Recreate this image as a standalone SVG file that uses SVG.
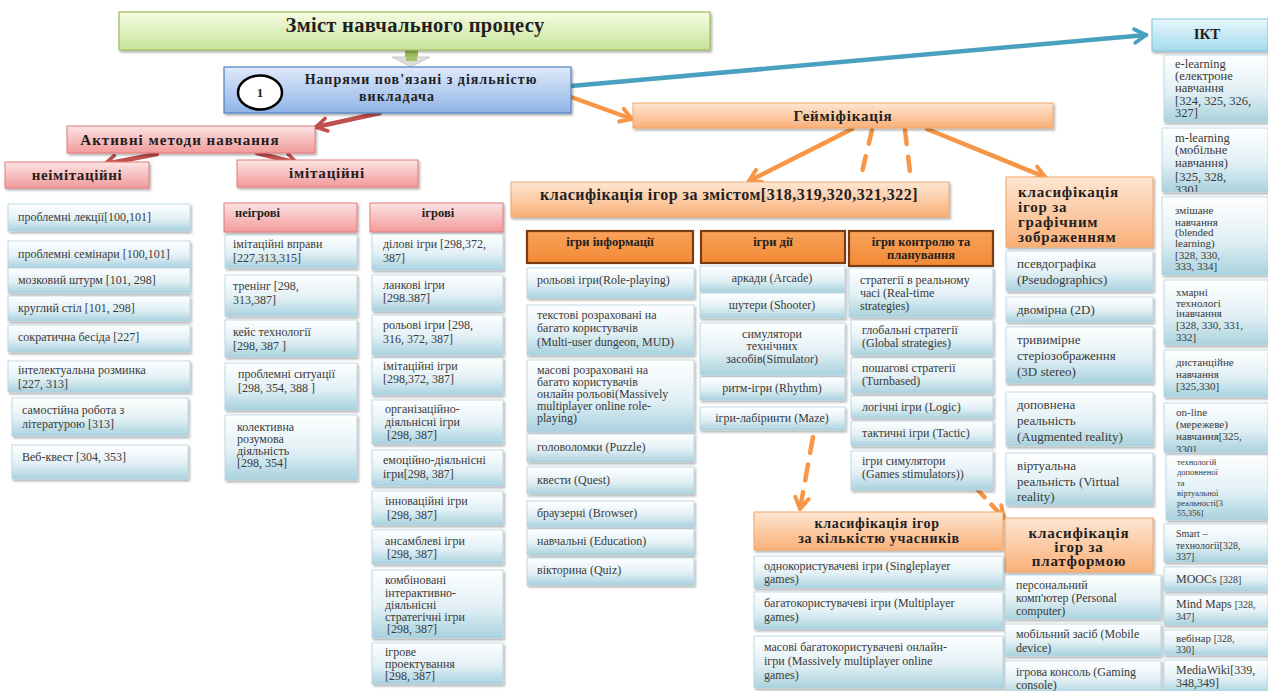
<svg xmlns="http://www.w3.org/2000/svg" width="1268" height="691" viewBox="0 0 1268 691">
<defs>
<linearGradient id="gItem" x1="0" y1="0" x2="0" y2="1"><stop offset="0" stop-color="#ffffff"/><stop offset="0.55" stop-color="#e2f0f5"/><stop offset="1" stop-color="#a9d2de"/></linearGradient>
<linearGradient id="gRed" x1="0" y1="0" x2="0" y2="1"><stop offset="0" stop-color="#fde4e4"/><stop offset="1" stop-color="#f29a9a"/></linearGradient>
<linearGradient id="gOr" x1="0" y1="0" x2="0" y2="1"><stop offset="0" stop-color="#fee6d2"/><stop offset="1" stop-color="#f9b079"/></linearGradient>
<linearGradient id="gOrD" x1="0" y1="0" x2="0" y2="1"><stop offset="0" stop-color="#f9a25a"/><stop offset="1" stop-color="#f28a36"/></linearGradient>
<linearGradient id="gGreen" x1="0" y1="0" x2="0" y2="1"><stop offset="0" stop-color="#f6fbe2"/><stop offset="1" stop-color="#c7e49c"/></linearGradient>
<linearGradient id="gNavy" x1="0" y1="0" x2="0" y2="1"><stop offset="0" stop-color="#e0eafb"/><stop offset="1" stop-color="#8fb4e6"/></linearGradient>
<linearGradient id="gIkt" x1="0" y1="0" x2="0" y2="1"><stop offset="0" stop-color="#e8f7fc"/><stop offset="1" stop-color="#a3daec"/></linearGradient>
<filter id="sh" x="-10%" y="-10%" width="125%" height="150%"><feDropShadow dx="1.5" dy="2" stdDeviation="1.2" flood-color="#000" flood-opacity="0.3"/></filter>
<marker id="mBlue" viewBox="0 0 16 16" refX="13" refY="8" markerWidth="18" markerHeight="18" markerUnits="userSpaceOnUse" orient="auto"><path d="M3,2 L13,8 L3,14" fill="none" stroke="#4aa0bf" stroke-width="3.5" stroke-linecap="round" stroke-linejoin="round"/></marker>
<marker id="mRed" viewBox="0 0 16 16" refX="13" refY="8" markerWidth="17" markerHeight="17" markerUnits="userSpaceOnUse" orient="auto"><path d="M3,2 L13,8 L3,14" fill="none" stroke="#c0504d" stroke-width="3.5" stroke-linecap="round" stroke-linejoin="round"/></marker>
<marker id="mOr" viewBox="0 0 16 16" refX="13" refY="8" markerWidth="18" markerHeight="18" markerUnits="userSpaceOnUse" orient="auto"><path d="M3,2 L13,8 L3,14" fill="none" stroke="#f79646" stroke-width="3.5" stroke-linecap="round" stroke-linejoin="round"/></marker>
<clipPath id="cM"><rect x="1162" y="128" width="106" height="64"/></clipPath>
<clipPath id="cO"><rect x="1162" y="403" width="106" height="49"/></clipPath>
<clipPath id="cT"><rect x="1166" y="455" width="102" height="65"/></clipPath>
</defs>
<style>
svg{font-size:12px}
.item{fill:url(#gItem);stroke:#b3d3de;stroke-width:0.8;filter:url(#sh)}
.red{fill:url(#gRed);stroke:#e07a7a;stroke-width:1;filter:url(#sh)}
.or{fill:url(#gOr);stroke:#f2a565;stroke-width:1;filter:url(#sh)}
.ord{fill:url(#gOrD);stroke:#7a3b10;stroke-width:2.2}
.t{font-family:"Liberation Serif","DejaVu Serif",serif;fill:#3a3a3a}
.b{font-weight:bold;fill:#1f1f1f}
.c{text-anchor:middle}
.con{fill:none;stroke-width:4.5;stroke-linecap:round}
</style>

<g id="connectors">
<path class="con" d="M571,86 L1146,35" stroke="#4aa0bf" marker-end="url(#mBlue)"/>
<path class="con" d="M380,113 L316,127" stroke="#c0504d" stroke-width="4" marker-end="url(#mRed)"/>
<path class="con" d="M157,154 L105,164" stroke="#c0504d" stroke-width="4" marker-end="url(#mRed)"/>
<path class="con" d="M257,153 L297,163" stroke="#c0504d" stroke-width="4" marker-end="url(#mRed)"/>
<path class="con" d="M571,97 L632,119" stroke="#f79646" marker-end="url(#mOr)"/>
<path class="con" d="M852,129 L749,181" stroke="#f79646" marker-end="url(#mOr)"/>
<path class="con" d="M872,130 L862,172" stroke="#f79646" stroke-dasharray="14 13" stroke-linecap="butt"/>
<path class="con" d="M905,130 L910,172" stroke="#f79646" stroke-dasharray="14 13" stroke-linecap="butt"/>
<path class="con" d="M927,129 L1045,177" stroke="#f79646" marker-end="url(#mOr)"/>
<path class="con" d="M813,437 L800,509" stroke="#f79646" stroke-dasharray="16 12" stroke-linecap="butt" marker-end="url(#mOr)"/>
<path class="con" d="M975,487 L1004,518" stroke="#f79646" stroke-dasharray="14 10" stroke-linecap="butt" marker-end="url(#mOr)"/>
<g id="down-arrow"><rect x="405" y="50" width="13" height="8" fill="#9bbb59"/><polygon points="392,57 430,57 411,67" fill="#dcdcdc" stroke="#c0c0c0" stroke-width="0.8"/><rect x="406" y="57" width="11" height="4" fill="#a6c46a"/></g>
</g>

<g id="n-zmist"><rect x="119" y="12" width="591" height="38" fill="url(#gGreen)" stroke="#9bbb59" stroke-width="1.2" filter="url(#sh)"/><text class="t b c" x="415" y="32" font-size="20.5" letter-spacing="0.3">Зміст навчального процесу</text></g>

<g id="n-napryamy"><rect x="224" y="67" width="347" height="46" fill="url(#gNavy)" stroke="#4f81bd" stroke-width="1.2" filter="url(#sh)"/><ellipse cx="260" cy="92.5" rx="22" ry="17" fill="#fff" stroke="#000" stroke-width="2.5"/><text class="t b c" x="260" y="97" font-size="13" fill="#000">1</text><text class="t b c" x="421" y="84" font-size="14" letter-spacing="1">Напрями пов'язані з діяльністю</text><text class="t b c" x="397" y="101" font-size="14" letter-spacing="1">викладача</text></g>

<g id="n-ikt"><rect x="1152" y="19" width="116" height="32" fill="url(#gIkt)" stroke="#7fc3da" stroke-width="1" filter="url(#sh)"/><text class="t b c" x="1207" y="39" font-size="15">ІКТ</text></g>

<g id="n-aktyvni"><rect class="red" x="67" y="126" width="248" height="27"/><text class="t b c" x="180" y="145" font-size="15" letter-spacing="1">Активні методи навчання</text></g>
<g id="n-neimit"><rect class="red" x="5" y="162" width="144" height="26"/><text class="t b c" x="77" y="180" font-size="15" letter-spacing="0.6">неімітаційні</text></g>
<g id="n-imit"><rect class="red" x="237" y="160" width="181" height="27"/><text class="t b c" x="327" y="178" font-size="15" letter-spacing="0.8">імітаційні</text></g>
<g id="n-neihrovi"><rect class="red" x="224" y="203" width="133" height="29"/><text class="t b" x="235" y="217" font-size="12.5">неігрові</text></g>
<g id="n-ihrovi"><rect class="red" x="370" y="203" width="133" height="29"/><text class="t b c" x="438" y="217" font-size="12.5">ігрові</text></g>

<g id="n-geim"><rect class="or" x="633" y="103" width="420" height="25"/><text class="t b c" x="843" y="121" font-size="15" letter-spacing="0.8">Гейміфікація</text></g>
<g id="n-zmistom"><rect class="or" x="511" y="182" width="438" height="35"/><text class="t b c" x="729" y="200" font-size="16" letter-spacing="0.5">класифікація ігор за змістом[318,319,320,321,322]</text></g>
<g id="n-hrafichnym"><rect class="or" x="1006" y="177" width="147" height="70"/><text class="t b" font-size="15" letter-spacing="0.8"><tspan x="1018" y="197">класифікація</tspan><tspan x="1018" y="212">ігор за</tspan><tspan x="1018" y="227">графічним</tspan><tspan x="1018" y="242">зображенням</tspan></text></g>
<g id="n-kilkistyu"><rect class="or" x="754" y="512" width="249" height="38"/><text class="t b c" font-size="14" letter-spacing="0.7"><tspan x="877" y="528">класифікація ігор</tspan><tspan x="879" y="543">за кількістю учасників</tspan></text></g>
<g id="n-platformoyu"><rect class="or" x="1005" y="518" width="148" height="54"/><text class="t b c" font-size="15" letter-spacing="0.8"><tspan x="1079" y="538">класифікація</tspan><tspan x="1079" y="552">ігор за</tspan><tspan x="1079" y="566">платформою</tspan></text></g>

<g id="n-h-info"><rect class="ord" x="527" y="231" width="166" height="32"/><text class="t b c" x="610" y="246" font-size="12.5">ігри інформації</text></g>
<g id="n-h-dii"><rect class="ord" x="701" y="231" width="144" height="32"/><text class="t b c" x="773" y="246" font-size="12.5">ігри дії</text></g>
<g id="n-h-kontr"><rect class="ord" x="849" y="231" width="144" height="35"/><text class="t b c" font-size="12.5"><tspan x="921" y="246">ігри контролю та</tspan><tspan x="921" y="259">планування</tspan></text></g>

<!-- неімітаційні -->
<g id="n-l1"><rect class="item" x="8" y="204" width="182" height="27"/><text class="t" x="18" y="221">проблемні лекції[100,101]</text></g>
<g id="n-l2"><rect class="item" x="8" y="241" width="182" height="27"/><text class="t" x="18" y="258">проблемні семінари [100,101]</text></g>
<g id="n-l3"><rect class="item" x="8" y="268" width="182" height="25"/><text class="t" x="18" y="284">мозковий штурм [101, 298]</text></g>
<g id="n-l4"><rect class="item" x="8" y="296" width="182" height="25"/><text class="t" x="18" y="312">круглий стіл [101, 298]</text></g>
<g id="n-l5"><rect class="item" x="8" y="325" width="182" height="27"/><text class="t" x="18" y="341">сократична бесіда [227]</text></g>
<g id="n-l6"><rect class="item" x="8" y="361" width="182" height="31"/><text class="t"><tspan x="18" y="374">інтелектуальна розминка</tspan><tspan x="18" y="388">[227, 313]</tspan></text></g>
<g id="n-l7"><rect class="item" x="12" y="398" width="176" height="38"/><text class="t"><tspan x="22" y="414">самостійна робота з</tspan><tspan x="22" y="428">літературою [313]</tspan></text></g>
<g id="n-l8"><rect class="item" x="12" y="445" width="176" height="34"/><text class="t" x="22" y="461">Веб-квест [304, 353]</text></g>

<!-- неігрові -->
<g id="n-n1"><rect class="item" x="225" y="235" width="132" height="33"/><text class="t"><tspan x="233" y="248">імітаційні вправи</tspan><tspan x="233" y="262">[227,313,315]</tspan></text></g>
<g id="n-n2"><rect class="item" x="225" y="275" width="132" height="41"/><text class="t"><tspan x="233" y="290">тренінг [298,</tspan><tspan x="233" y="304">313,387]</tspan></text></g>
<g id="n-n3"><rect class="item" x="225" y="320" width="132" height="37"/><text class="t"><tspan x="233" y="336">кейс технології</tspan><tspan x="233" y="350">[298, 387 ]</tspan></text></g>
<g id="n-n4"><rect class="item" x="225" y="363" width="132" height="47"/><text class="t"><tspan x="238" y="378">проблемні ситуації</tspan><tspan x="238" y="392">[298, 354, 388 ]</tspan></text></g>
<g id="n-n5"><rect class="item" x="225" y="415" width="132" height="65"/><text class="t"><tspan x="237" y="431">колективна</tspan><tspan x="237" y="443">розумова</tspan><tspan x="237" y="455">діяльність</tspan><tspan x="237" y="467">[298, 354]</tspan></text></g>

<!-- ігрові -->
<g id="n-g1"><rect class="item" x="372" y="234" width="131" height="36"/><text class="t"><tspan x="383" y="248">ділові ігри [298,372,</tspan><tspan x="383" y="262">387]</tspan></text></g>
<g id="n-g2"><rect class="item" x="372" y="275" width="131" height="36"/><text class="t"><tspan x="383" y="289">ланкові ігри</tspan><tspan x="383" y="302">[298.387]</tspan></text></g>
<g id="n-g3"><rect class="item" x="372" y="315" width="131" height="40"/><text class="t"><tspan x="383" y="329">рольові ігри [298,</tspan><tspan x="383" y="343">316, 372, 387]</tspan></text></g>
<g id="n-g4"><rect class="item" x="372" y="358" width="131" height="37"/><text class="t"><tspan x="383" y="370">імітаційні  ігри</tspan><tspan x="383" y="383">[298,372, 387]</tspan></text></g>
<g id="n-g5"><rect class="item" x="372" y="400" width="131" height="44"/><text class="t"><tspan x="385" y="413">організаційно-</tspan><tspan x="385" y="426">діяльнісні ігри</tspan><tspan x="387" y="439">[298, 387]</tspan></text></g>
<g id="n-g6"><rect class="item" x="372" y="450" width="131" height="36"/><text class="t"><tspan x="383" y="464">емоційно-діяльнісні</tspan><tspan x="383" y="478">ігри[298, 387]</tspan></text></g>
<g id="n-g7"><rect class="item" x="372" y="491" width="131" height="34"/><text class="t"><tspan x="385" y="505">інноваційні  ігри</tspan><tspan x="387" y="519">[298, 387]</tspan></text></g>
<g id="n-g8"><rect class="item" x="372" y="530" width="131" height="34"/><text class="t"><tspan x="385" y="545">ансамблеві ігри</tspan><tspan x="387" y="558">[298, 387]</tspan></text></g>
<g id="n-g9"><rect class="item" x="372" y="570" width="131" height="68"/><text class="t"><tspan x="385" y="584">комбіновані</tspan><tspan x="385" y="597">інтерактивно-</tspan><tspan x="385" y="609">діяльнісні</tspan><tspan x="385" y="621">стратегічні ігри</tspan><tspan x="387" y="633">[298, 387]</tspan></text></g>
<g id="n-g10"><rect class="item" x="372" y="643" width="131" height="41"/><text class="t"><tspan x="385" y="656">ігрове</tspan><tspan x="385" y="668">проектування</tspan><tspan x="385" y="680">[298, 387]</tspan></text></g>

<!-- ігри інформації -->
<g id="n-i1"><rect class="item" x="527" y="268" width="167" height="30"/><text class="t" x="537" y="284">рольові ігри(Role-playing)</text></g>
<g id="n-i2"><rect class="item" x="527" y="305" width="167" height="50"/><text class="t"><tspan x="537" y="319">текстові розраховані на</tspan><tspan x="537" y="332">багато користувачів</tspan><tspan x="537" y="346">(Multi-user dungeon, MUD)</tspan></text></g>
<g id="n-i3"><rect class="item" x="527" y="360" width="167" height="72"/><text class="t"><tspan x="537" y="374">масові розраховані на</tspan><tspan x="537" y="386">багато користувачів</tspan><tspan x="537" y="398">онлайн рольові(Massively</tspan><tspan x="537" y="410">multiplayer online role-</tspan><tspan x="537" y="422">playing)</tspan></text></g>
<g id="n-i4"><rect class="item" x="527" y="434" width="167" height="28"/><text class="t" x="537" y="451">головоломки (Puzzle)</text></g>
<g id="n-i5"><rect class="item" x="527" y="467" width="167" height="27"/><text class="t" x="537" y="484">квести (Quest)</text></g>
<g id="n-i6"><rect class="item" x="527" y="501" width="167" height="26"/><text class="t" x="537" y="517">браузерні (Browser)</text></g>
<g id="n-i7"><rect class="item" x="527" y="529" width="167" height="26"/><text class="t" x="537" y="545">навчальні (Education)</text></g>
<g id="n-i8"><rect class="item" x="527" y="558" width="167" height="27"/><text class="t" x="537" y="574">вікторина (Quiz)</text></g>

<!-- ігри дії -->
<g id="n-d1"><rect class="item" x="700" y="266" width="145" height="26"/><text class="t c" x="772" y="282">аркади (Arcade)</text></g>
<g id="n-d2"><rect class="item" x="700" y="293" width="145" height="25"/><text class="t c" x="772" y="309">шутери (Shooter)</text></g>
<g id="n-d3"><rect class="item" x="700" y="323" width="145" height="52"/><text class="t c"><tspan x="772" y="338">симулятори</tspan><tspan x="772" y="350">технічних</tspan><tspan x="772" y="363">засобів(Simulator)</tspan></text></g>
<g id="n-d4"><rect class="item" x="700" y="377" width="145" height="23"/><text class="t c" x="772" y="392">ритм-ігри (Rhythm)</text></g>
<g id="n-d5"><rect class="item" x="700" y="407" width="145" height="23"/><text class="t c" x="772" y="422">ігри-лабіринти (Maze)</text></g>

<!-- ігри контролю -->
<g id="n-k1"><rect class="item" x="849" y="268" width="144" height="49"/><text class="t"><tspan x="860" y="284">стратегії в реальному</tspan><tspan x="860" y="297">часі  (Real-time</tspan><tspan x="860" y="310">strategies)</tspan></text></g>
<g id="n-k2"><rect class="item" x="851" y="320" width="142" height="35"/><text class="t"><tspan x="862" y="334">глобальні стратегії</tspan><tspan x="862" y="347">(Global strategies)</tspan></text></g>
<g id="n-k3"><rect class="item" x="851" y="358" width="142" height="35"/><text class="t"><tspan x="862" y="372">пошагові стратегії</tspan><tspan x="862" y="385">(Turnbased)</tspan></text></g>
<g id="n-k4"><rect class="item" x="851" y="396" width="142" height="22"/><text class="t" x="862" y="411">логічні ігри (Logic)</text></g>
<g id="n-k5"><rect class="item" x="851" y="421" width="142" height="25"/><text class="t" x="862" y="437">тактичні ігри (Tactic)</text></g>
<g id="n-k6"><rect class="item" x="851" y="451" width="142" height="39"/><text class="t"><tspan x="862" y="465">ігри симулятори</tspan><tspan x="862" y="478">(Games stimulators))</tspan></text></g>

<!-- кількість учасників -->
<g id="n-u1"><rect class="item" x="754" y="556" width="249" height="32"/><text class="t"><tspan x="764" y="570">однокористувачеві ігри (Singleplayer</tspan><tspan x="764" y="583">games)</tspan></text></g>
<g id="n-u2"><rect class="item" x="754" y="592" width="249" height="37"/><text class="t"><tspan x="764" y="607">багатокористувачеві ігри (Multiplayer</tspan><tspan x="764" y="621">games)</tspan></text></g>
<g id="n-u3"><rect class="item" x="754" y="636" width="249" height="52"/><text class="t"><tspan x="764" y="651">масові багатокористувачеві онлайн-</tspan><tspan x="764" y="665">ігри (Massively multiplayer online</tspan><tspan x="764" y="679">games)</tspan></text></g>

<!-- графічне зображення -->
<g id="n-z1"><rect class="item" x="1006" y="251" width="147" height="40"/><text class="t" font-size="13"><tspan x="1017" y="268">псевдографіка</tspan><tspan x="1017" y="284">(Pseudographics)</tspan></text></g>
<g id="n-z2"><rect class="item" x="1006" y="297" width="147" height="25"/><text class="t" font-size="13" x="1017" y="314">двомірна (2D)</text></g>
<g id="n-z3"><rect class="item" x="1006" y="327" width="147" height="56"/><text class="t" font-size="13"><tspan x="1017" y="344">тривимірне</tspan><tspan x="1017" y="360">стеріозображення</tspan><tspan x="1017" y="376">(3D stereo)</tspan></text></g>
<g id="n-z4"><rect class="item" x="1006" y="392" width="147" height="54"/><text class="t" font-size="13"><tspan x="1017" y="409">доповнена</tspan><tspan x="1017" y="425">реальність</tspan><tspan x="1017" y="441">(Augmented reality)</tspan></text></g>
<g id="n-z5"><rect class="item" x="1006" y="453" width="147" height="52"/><text class="t" font-size="13"><tspan x="1017" y="470">віртуальна</tspan><tspan x="1017" y="486">реальність (Virtual</tspan><tspan x="1017" y="501">reality)</tspan></text></g>

<!-- платформа -->
<g id="n-p1"><rect class="item" x="1005" y="575" width="156" height="44"/><text class="t"><tspan x="1016" y="589">персональний</tspan><tspan x="1016" y="602">комп'ютер (Personal</tspan><tspan x="1016" y="615">computer)</tspan></text></g>
<g id="n-p2"><rect class="item" x="1005" y="624" width="156" height="32"/><text class="t"><tspan x="1016" y="638">мобільний засіб (Mobile</tspan><tspan x="1016" y="652">device)</tspan></text></g>
<g id="n-p3"><rect class="item" x="1005" y="661" width="156" height="34"/><text class="t"><tspan x="1016" y="676">ігрова консоль (Gaming</tspan><tspan x="1016" y="689">console)</tspan></text></g>

<!-- ІКТ -->
<g id="n-e1"><rect class="item" x="1164" y="55" width="104" height="67"/><text class="t" font-size="12.5"><tspan x="1175" y="68">e-learning</tspan><tspan x="1175" y="80">(електроне</tspan><tspan x="1175" y="92">навчання</tspan><tspan x="1175" y="105">[324, 325, 326,</tspan><tspan x="1175" y="117">327]</tspan></text></g>
<g id="n-e2"><rect class="item" x="1162" y="128" width="106" height="64"/><text class="t" font-size="12.5" clip-path="url(#cM)"><tspan x="1175" y="142">m-learning</tspan><tspan x="1175" y="154">(мобільне</tspan><tspan x="1175" y="167">навчання)</tspan><tspan x="1175" y="181">[325, 328,</tspan><tspan x="1175" y="194">330]</tspan></text></g>
<g id="n-e3"><rect class="item" x="1162" y="197" width="106" height="78"/><text class="t" font-size="11"><tspan x="1175" y="214">змішане</tspan><tspan x="1175" y="226">навчання</tspan><tspan x="1175" y="236">(blended</tspan><tspan x="1175" y="247">learning)</tspan><tspan x="1175" y="259">[328, 330,</tspan><tspan x="1175" y="270">333, 334]</tspan></text></g>
<g id="n-e4"><rect class="item" x="1164" y="280" width="104" height="65"/><text class="t" font-size="11"><tspan x="1176" y="296">хмарні</tspan><tspan x="1176" y="307">технологі</tspan><tspan x="1176" y="317">інавчання</tspan><tspan x="1176" y="329">[328, 330, 331,</tspan><tspan x="1176" y="341">332]</tspan></text></g>
<g id="n-e5"><rect class="item" x="1164" y="350" width="104" height="47"/><text class="t" font-size="11"><tspan x="1176" y="366">дистанційне</tspan><tspan x="1176" y="378">навчання</tspan><tspan x="1176" y="390">[325,330]</tspan></text></g>
<g id="n-e6"><rect class="item" x="1164" y="403" width="104" height="49"/><text class="t" font-size="11" clip-path="url(#cO)"><tspan x="1176" y="416">on-line</tspan><tspan x="1176" y="428">(мережеве)</tspan><tspan x="1176" y="440">навчання[325,</tspan><tspan x="1176" y="453">330]</tspan></text></g>
<g id="n-e7"><rect class="item" x="1166" y="455" width="102" height="65"/><text class="t" font-size="8.5" clip-path="url(#cT)"><tspan x="1177" y="465">технологій</tspan><tspan x="1177" y="475">доповненої</tspan><tspan x="1177" y="486">та</tspan><tspan x="1177" y="496">віртуальної</tspan><tspan x="1177" y="506">реальності[3</tspan><tspan x="1177" y="516">55,356]</tspan></text></g>
<g id="n-e8"><rect class="item" x="1164" y="524" width="104" height="38"/><text class="t" font-size="10"><tspan x="1176" y="537">Smart –</tspan><tspan x="1176" y="549">технології[328,</tspan><tspan x="1176" y="560">337]</tspan></text></g>
<g id="n-e9"><rect class="item" x="1164" y="567" width="104" height="24"/><text class="t" x="1176" y="583">MOOCs <tspan font-size="10">[328]</tspan></text></g>
<g id="n-e10"><rect class="item" x="1164" y="595" width="104" height="30"/><text class="t"><tspan x="1176" y="608">Mind Maps <tspan font-size="10">[328,</tspan></tspan><tspan x="1176" y="620" font-size="10">347]</tspan></text></g>
<g id="n-e11"><rect class="item" x="1164" y="630" width="104" height="25"/><text class="t" font-size="11"><tspan x="1176" y="642">вебінар <tspan font-size="10">[328,</tspan></tspan><tspan x="1176" y="653" font-size="10">330]</tspan></text></g>
<g id="n-e12"><rect class="item" x="1164" y="660" width="104" height="33"/><text class="t"><tspan x="1176" y="674">MediaWiki[339,</tspan><tspan x="1176" y="687">348,349]</tspan></text></g>
</svg>
